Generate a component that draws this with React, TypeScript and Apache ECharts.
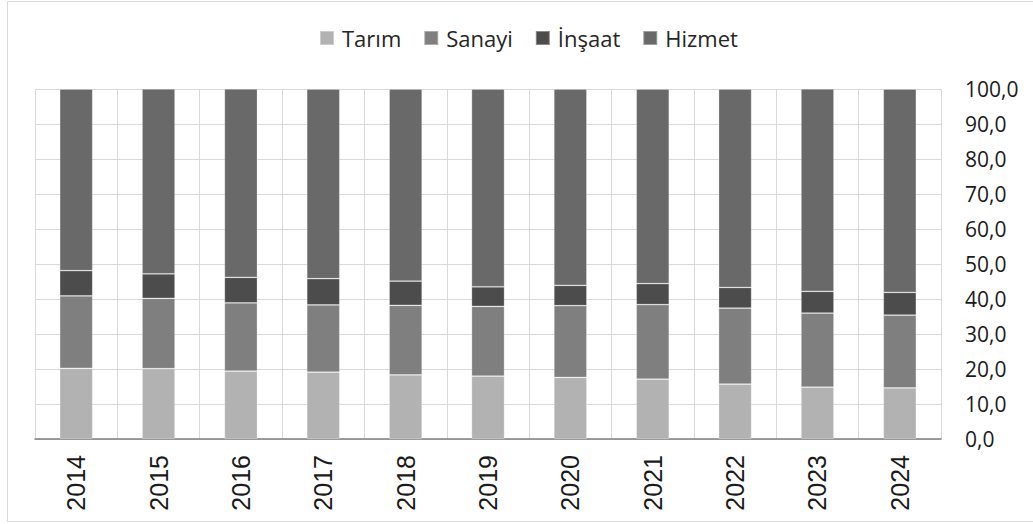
import React, { useEffect, useRef } from "react";
import * as echarts from "echarts";

const years = ["2014", "2015", "2016", "2017", "2018", "2019", "2020", "2021", "2022", "2023", "2024"];
const tarim = [20.2, 20.1, 19.4, 19.1, 18.3, 18.0, 17.6, 17.1, 15.7, 14.8, 14.6];
const sanayi = [20.7, 20.1, 19.5, 19.2, 19.9, 19.9, 20.5, 21.3, 21.7, 21.2, 20.8];
const insaat = [7.2, 7.0, 7.3, 7.5, 6.9, 5.6, 5.8, 6.0, 5.9, 6.2, 6.5];
const hizmet = [51.9, 52.8, 53.8, 54.2, 54.9, 56.5, 56.1, 55.6, 56.7, 57.8, 58.1];

const seriesNames = ["Tarım", "Sanayi", "İnşaat", "Hizmet"];
const seriesColors = ["#b2b2b2", "#7f7f7f", "#4c4c4c", "#696969"];

export default function App() {
  const ref = useRef<HTMLDivElement>(null);
  useEffect(() => {
    if (!ref.current) return;
    const chart = echarts.init(ref.current, null, { renderer: "svg" });
    const data = [tarim, sanayi, insaat, hizmet];
    chart.setOption({
      animation: false,
      backgroundColor: "#ffffff",
      graphic: [
        {
          type: "rect",
          shape: { x: 7.5, y: 1.5, width: 1100, height: 520 },
          style: { fill: "none", stroke: "#d9d9d9", lineWidth: 1 },
          silent: true,
        },
      ],
      legend: {
        left: 319,
        top: 27,
        padding: 0,
        itemWidth: 14,
        itemHeight: 14,
        itemGap: 22,
        icon: "rect",
        textStyle: {
          fontFamily: "Open Sans",
          fontSize: 22,
          color: "#262626",
          padding: [0, 0, 0, 3],
        },
        data: seriesNames,
      },
      grid: { left: 35, right: 92, top: 89, bottom: 85, containLabel: false },
      xAxis: {
        type: "category",
        data: years,
        boundaryGap: true,
        axisLine: { show: true, lineStyle: { color: "#7f7f7f", width: 1.5 } },
        axisTick: { show: false },
        splitLine: { show: true, interval: 0, lineStyle: { color: "#d9d9d9", width: 1 } },
        axisLabel: {
          rotate: 90,
          margin: 16,
          interval: 0,
          fontFamily: "Liberation Sans",
          fontSize: 25,
          color: "#1a1a1a",
        },
      },
      yAxis: {
        type: "value",
        position: "right",
        min: 0,
        max: 100,
        interval: 10,
        axisLine: { show: false },
        axisTick: { show: false },
        splitLine: { show: true, lineStyle: { color: "#d9d9d9", width: 1 } },
        axisLabel: {
          margin: 24,
          fontFamily: "Open Sans",
          fontSize: 21,
          color: "#1a1a1a",
          formatter: (v: number) => v.toFixed(1).replace(".", ","),
        },
      },
      series: seriesNames.map((name, i) => ({
        name,
        type: "bar",
        stack: "total",
        barWidth: 33,
        data: data[i],
        itemStyle: {
          color: seriesColors[i],
          borderColor: "rgba(255,255,255,0.35)",
          borderWidth: 0.75,
        },
      })),
    });
    return () => chart.dispose();
  }, []);
  return (
    <div
      ref={ref}
      style={{ position: "absolute", left: 0, top: 0, width: 1033, height: 524 }}
    />
  );
}
